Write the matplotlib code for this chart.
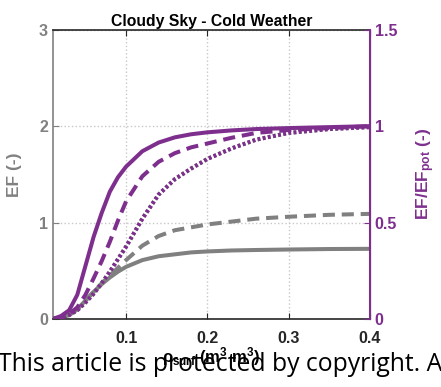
import matplotlib
matplotlib.use('Agg')
import matplotlib.pyplot as plt

plt.rcParams['font.family'] = ['Liberation Sans', 'DejaVu Sans']
plt.rcParams['mathtext.fontset'] = 'custom'
plt.rcParams['mathtext.rm'] = 'Liberation Sans:bold'
plt.rcParams['mathtext.it'] = 'Liberation Sans:bold'
plt.rcParams['mathtext.bf'] = 'Liberation Sans:bold'

GREY = '#808080'
PURPLE = '#7E2F8E'

# soil moisture (m3 m-3)
p_surf = [0.01, 0.02, 0.03, 0.04, 0.05, 0.06, 0.07, 0.08, 0.09, 0.10,
          0.12, 0.14, 0.16, 0.18, 0.20, 0.23, 0.26, 0.30, 0.35, 0.40]

# EF (left axis)
ef_solid = [0, 0.01, 0.04, 0.10, 0.19, 0.28, 0.36, 0.43, 0.49, 0.54,
            0.61, 0.65, 0.67, 0.69, 0.70, 0.71, 0.715, 0.72, 0.725, 0.727]
ef_dashed = [0, 0.01, 0.04, 0.10, 0.19, 0.28, 0.37, 0.45, 0.53, 0.61,
             0.76, 0.86, 0.92, 0.95, 0.98, 1.01, 1.04, 1.06, 1.08, 1.09]
ef_dotted = [0, 0.01, 0.04, 0.09, 0.17, 0.26, 0.37, 0.49, 0.62, 0.75,
             1.04, 1.29, 1.45, 1.56, 1.66, 1.77, 1.86, 1.93, 1.97, 1.99]

# EF/EFpot (right axis)
ratio_solid = [0, 0.015, 0.045, 0.125, 0.275, 0.425, 0.55, 0.66, 0.735, 0.79,
               0.87, 0.915, 0.942, 0.958, 0.968, 0.978, 0.985, 0.99, 0.995, 1.0]
ratio_dashed = [0, 0.005, 0.025, 0.06, 0.125, 0.21, 0.30, 0.40, 0.51, 0.61,
                0.74, 0.815, 0.86, 0.89, 0.91, 0.94, 0.965, 0.98, 0.99, 1.0]
ratio_dotted = [0, 0.005, 0.02, 0.045, 0.085, 0.13, 0.185, 0.245, 0.31, 0.375,
                0.52, 0.645, 0.725, 0.78, 0.83, 0.885, 0.93, 0.965, 0.985, 0.995]

fig = plt.figure(figsize=(4.41, 3.87), dpi=100)
ax = fig.add_axes([0.120, 0.176, 0.719, 0.747])
ax2 = ax.twinx()

lw = 2.9
ax.plot(p_surf, ef_solid, color=GREY, lw=lw, ls='-')
ax.plot(p_surf, ef_dashed, color=GREY, lw=lw, ls=(0, (3, 1.7)))
ax.plot(p_surf, ef_dotted, color=GREY, lw=lw, ls=(0, (0.7, 0.6)))

ax2.plot(p_surf, ratio_solid, color=PURPLE, lw=lw, ls='-')
ax2.plot(p_surf, ratio_dashed, color=PURPLE, lw=lw, ls=(0, (3, 1.7)))
ax2.plot(p_surf, ratio_dotted, color=PURPLE, lw=lw, ls=(0, (0.7, 0.6)))

ax.set_xlim(0.01, 0.4)
ax.set_ylim(0, 3)
ax2.set_ylim(0, 1.5)
ax.set_xticks([0.1, 0.2, 0.3, 0.4])
ax.set_xticklabels(['0.1', '0.2', '0.3', '0.4'])
ax.set_yticks([0, 1, 2, 3])
ax2.set_yticks([0, 0.5, 1, 1.5])
ax2.set_yticklabels(['0', '0.5', '1', '1.5'])

ax.grid(True, color='#c8c8c8', ls=':', lw=1.0)

ax.tick_params(axis='x', direction='in', length=4, colors='#262626',
               labelsize=11.5, top=True, pad=9)
ax.tick_params(axis='y', direction='in', length=4, colors=GREY, labelsize=11.5)
ax2.tick_params(axis='y', direction='in', length=4, colors=PURPLE, labelsize=11.5)
for lab in ax.get_xticklabels() + ax.get_yticklabels() + ax2.get_yticklabels():
    lab.set_fontweight('bold')

ax.spines['left'].set_color(GREY)
ax.spines['bottom'].set_color('#262626')
ax.spines['top'].set_color('#262626')
ax2.spines['right'].set_color(PURPLE)
ax2.spines['left'].set_visible(False)
ax2.spines['top'].set_visible(False)
ax2.spines['bottom'].set_visible(False)
for sp in ['left', 'bottom', 'top']:
    ax.spines[sp].set_linewidth(1.2)
ax2.spines['right'].set_linewidth(1.5)

ax.set_title('Cloudy Sky - Cold Weather', fontsize=11.3, fontweight='bold', pad=3)
ax.set_ylabel('EF (-)', color=GREY, fontsize=12.5, fontweight='bold', labelpad=12)
ax2.set_ylabel(r'EF/EF$_{pot}$ (-)', color=PURPLE, fontsize=12.5,
               fontweight='bold', labelpad=12)
ax.set_xlabel(r'$\rho_{surf}$ (m$^3$ m$^{3}$)', fontsize=12, fontweight='bold',
              labelpad=-1)

fig.text(-0.005, 0.058, 'This article is protected by copyright. A',
         fontsize=17.8, family=['Open Sans', 'DejaVu Sans'], va='center', ha='left')

fig.savefig('out.png', dpi=100)
